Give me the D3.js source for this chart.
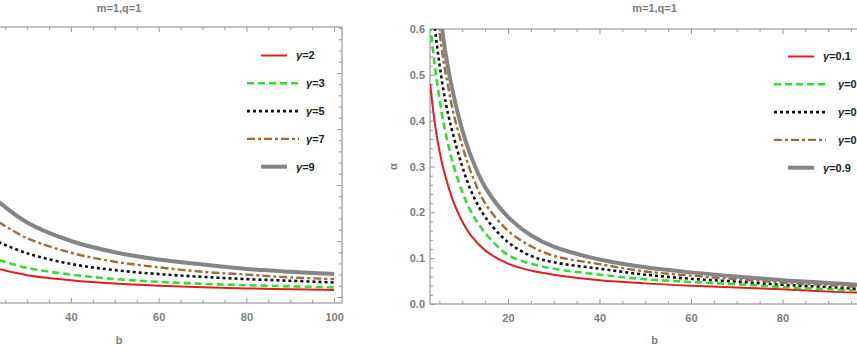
<!DOCTYPE html>
<html lang="en">
<head>
<meta charset="UTF-8">
<title>alpha vs b</title>
<script src="https://cdn.jsdelivr.net/npm/d3@7"></script>
<style>
    html, body { margin: 0; padding: 0; background: #fff; }
    svg { display: block; }
    text { font-family: "Liberation Sans", Arial, sans-serif; }
</style>
</head>
<body>
<script>
    // data
    var titleText = 'm=1,q=1';

    // left panel: gamma = 2,3,5,7,9
    var bLeft = [23.5, 30, 40, 50, 60, 70, 80, 90, 100];
    var leftG2 = [0.050, 0.039, 0.030, 0.024, 0.0202, 0.0175, 0.0154, 0.0138, 0.0125];
    var leftG3 = [0.066, 0.052, 0.040, 0.032, 0.027, 0.0235, 0.021, 0.019, 0.017];
    var leftG5 = [0.098, 0.078, 0.059, 0.048, 0.041, 0.036, 0.032, 0.029, 0.026];
    var leftG7 = [0.134, 0.105, 0.079, 0.063, 0.053, 0.045, 0.040, 0.035, 0.032];
    var leftG9 = [0.170, 0.133, 0.100, 0.080, 0.067, 0.058, 0.050, 0.045, 0.041];
    var leftLabels = ['2', '3', '5', '7', '9'];

    // right panel: gamma = 0.1,0.3,0.5,0.7,0.9
    var bRight = [3, 4, 5, 6, 7, 8, 10, 12, 15, 20, 25, 30, 40, 50, 60, 70, 80, 90, 100];
    var rightG01 = [0.48, 0.395, 0.335, 0.29, 0.255, 0.225, 0.18, 0.148, 0.117, 0.088, 0.073, 0.064, 0.052, 0.045, 0.040, 0.036, 0.032, 0.027, 0.024];
    var rightG03 = [0.61, 0.52, 0.45, 0.39, 0.345, 0.305, 0.245, 0.20, 0.155, 0.107, 0.088, 0.077, 0.064, 0.054, 0.048, 0.043, 0.037, 0.032, 0.028];
    var rightG05 = [0.72, 0.605, 0.525, 0.46, 0.41, 0.37, 0.30, 0.245, 0.19, 0.135, 0.105, 0.091, 0.077, 0.064, 0.055, 0.049, 0.042, 0.037, 0.031];
    var rightG07 = [0.85, 0.69, 0.595, 0.525, 0.47, 0.42, 0.345, 0.285, 0.22, 0.16, 0.126, 0.105, 0.087, 0.071, 0.062, 0.054, 0.047, 0.041, 0.035];
    var rightG09 = [1.0, 0.80, 0.66, 0.57, 0.51, 0.46, 0.38, 0.32, 0.255, 0.19, 0.15, 0.125, 0.097, 0.080, 0.069, 0.060, 0.052, 0.046, 0.040];
    var rightLabels = ['0.1', '0.3', '0.5', '0.7', '0.9'];

    var xMajor = [20, 40, 60, 80, 100];
    var yMajor = [0, 0.1, 0.2, 0.3, 0.4, 0.5, 0.6];

    // line styles, same order in both panels
    var styles = [
        { color: '#e41e1e', width: 2,   dash: null,      shortLine: true },
        { color: '#33dd33', width: 2.6, dash: '7,4',     shortLine: false },
        { color: '#111111', width: 2.6, dash: '3,3',     shortLine: false },
        { color: '#9e6c3c', width: 2.4, dash: '8,3,3,3', shortLine: false },
        { color: '#858585', width: 4,   dash: null,      shortLine: true }
    ];

    var width = 857, height = 346;
    var svg = d3.select('body').append('svg')
        .attr('width', width)
        .attr('height', height);

    var axisGray = '#7d7d7d';

    function drawPanel(p) {
        var x = d3.scaleLinear().domain(p.xDomain).range([p.left, p.right]);
        var y = d3.scaleLinear().domain(p.yDomain).range([p.bottom, p.top]);
        var g = svg.append('g');

        var clipId = 'clip-' + p.id;
        svg.append('clipPath').attr('id', clipId)
            .append('rect')
            .attr('x', p.left).attr('y', p.top)
            .attr('width', p.right - p.left).attr('height', p.bottom - p.top);

        function inX(v) { return v >= p.xDomain[0] && v <= p.xDomain[1]; }
        function inY(v) { return v >= p.yDomain[0] - 1e-9 && v <= p.yDomain[1] + 1e-9; }
        function onScreenX(v) { return x(v) >= 0 && x(v) <= width; }

        // major and minor ticks, kept inside the frame
        var xMaj = xMajor.filter(inX);
        var xMin = d3.range(0, 105, 5).filter(function(v) { return xMajor.indexOf(v) < 0; }).filter(inX);
        var yMaj = yMajor.filter(inY);
        var yMin = d3.range(0, 0.601, 0.02).filter(function(v) {
            return Math.abs(Math.round(v * 10) - v * 10) > 1e-6;
        }).filter(inY);
        var xLab = xMaj.filter(onScreenX);
        var showLeftLabels = p.left > 0;

        function tickGroup(axis, tx, ty) {
            var a = g.append('g')
                .attr('transform', 'translate(' + tx + ',' + ty + ')')
                .call(axis);
            a.select('.domain').remove();
            a.selectAll('line').attr('stroke', '#9a9a9a').attr('stroke-width', 1);
            a.selectAll('text')
                .attr('fill', axisGray)
                .attr('font-size', 11)
                .attr('font-weight', 'bold')
                .attr('font-family', '"Liberation Sans", Arial, sans-serif');
            return a;
        }

        // bottom
        tickGroup(d3.axisBottom(x).tickValues(xMaj).tickSizeInner(-5).tickSizeOuter(0)
            .tickFormat(''), 0, p.bottom);
        tickGroup(d3.axisBottom(x).tickValues(xLab).tickSize(0)
            .tickPadding(10).tickFormat(d3.format('d')), 0, p.bottom);
        tickGroup(d3.axisBottom(x).tickValues(xMin).tickSizeInner(-3).tickSizeOuter(0)
            .tickFormat(''), 0, p.bottom);
        // top (mirror)
        tickGroup(d3.axisTop(x).tickValues(xMaj).tickSizeInner(-5).tickSizeOuter(0)
            .tickFormat(''), 0, p.top);
        tickGroup(d3.axisTop(x).tickValues(xMin).tickSizeInner(-3).tickSizeOuter(0)
            .tickFormat(''), 0, p.top);
        // left
        tickGroup(d3.axisLeft(y).tickValues(yMaj).tickSizeInner(-5).tickSizeOuter(0)
            .tickPadding(5).tickFormat(showLeftLabels ? d3.format('.1f') : ''), p.left, 0);
        tickGroup(d3.axisLeft(y).tickValues(yMin).tickSizeInner(-3).tickSizeOuter(0)
            .tickFormat(''), p.left, 0);
        // right (mirror)
        tickGroup(d3.axisRight(y).tickValues(yMaj).tickSizeInner(-5).tickSizeOuter(0)
            .tickFormat(''), p.right, 0);
        tickGroup(d3.axisRight(y).tickValues(yMin).tickSizeInner(-3).tickSizeOuter(0)
            .tickFormat(''), p.right, 0);

        // frame
        g.append('rect')
            .attr('x', p.left).attr('y', p.top)
            .attr('width', p.right - p.left).attr('height', p.bottom - p.top)
            .attr('fill', 'none').attr('stroke', '#9a9a9a').attr('stroke-width', 1.2);

        // curves
        var line = d3.line()
            .x(function(d) { return x(d[0]); })
            .y(function(d) { return y(d[1]); })
            .curve(d3.curveCatmullRom.alpha(0.5));

        var curves = g.append('g').attr('clip-path', 'url(#' + clipId + ')');
        p.series.forEach(function(vals, i) {
            var s = styles[i];
            var pts = p.b.map(function(b, k) { return [b, vals[k]]; });
            curves.append('path')
                .datum(pts)
                .attr('d', line)
                .attr('fill', 'none')
                .attr('stroke', s.color)
                .attr('stroke-width', s.width)
                .attr('stroke-dasharray', s.dash)
                .attr('stroke-linecap', 'butt');
        });

        // titles
        var cx = (p.left + p.right) / 2;
        g.append('text')
            .attr('x', cx).attr('y', 12)
            .attr('text-anchor', 'middle')
            .attr('font-size', 11).attr('font-weight', 'bold')
            .attr('fill', axisGray)
            .text(titleText);
        g.append('text')
            .attr('x', cx).attr('y', 344)
            .attr('text-anchor', 'middle')
            .attr('font-size', 11).attr('font-weight', 'bold')
            .attr('fill', axisGray)
            .text('b');
        if (showLeftLabels) {
            g.append('text')
                .attr('transform', 'translate(' + (p.left - 37) + ',' + ((p.top + p.bottom) / 2) + ') rotate(-90)')
                .attr('text-anchor', 'middle')
                .attr('dy', '0.35em')
                .attr('font-size', 11).attr('font-weight', 'bold')
                .attr('fill', axisGray)
                .text('α');
        }

        // legend
        var lg = g.append('g').attr('transform', 'translate(' + p.legendX + ',' + p.legendY + ')');
        p.labels.forEach(function(lab, i) {
            var s = styles[i];
            var row = lg.append('g').attr('transform', 'translate(0,' + (i * 27.8) + ')');
            var x1 = s.shortLine ? 14 : 0;
            var x2 = s.shortLine ? 40 : 52;
            row.append('line')
                .attr('x1', x1).attr('x2', x2)
                .attr('y1', 0).attr('y2', 0)
                .attr('stroke', s.color)
                .attr('stroke-width', s.width)
                .attr('stroke-dasharray', s.dash);
            var t = row.append('text')
                .attr('x', s.shortLine ? 49 : p.legendLongX)
                .attr('y', 0).attr('dy', '0.35em')
                .attr('font-size', 11).attr('font-weight', 'bold')
                .attr('fill', '#222');
            t.append('tspan').attr('font-style', 'italic').text('γ');
            t.append('tspan').text('=' + lab);
        });
    }

    drawPanel({
        id: 'left',
        left: -104, right: 342, top: 27, bottom: 303,
        xDomain: [0.1, 101.8], yDomain: [-0.0107, 0.482],
        b: bLeft,
        series: [leftG2, leftG3, leftG5, leftG7, leftG9],
        labels: leftLabels,
        legendX: 247, legendY: 55.5, legendLongX: 59
    });

    drawPanel({
        id: 'right',
        left: 430, right: 879, top: 29, bottom: 304,
        xDomain: [2.95, 101.1], yDomain: [0, 0.6],
        b: bRight,
        series: [rightG01, rightG03, rightG05, rightG07, rightG09],
        labels: rightLabels,
        legendX: 774, legendY: 56.5, legendLongX: 64
    });
</script>
</body>
</html>
